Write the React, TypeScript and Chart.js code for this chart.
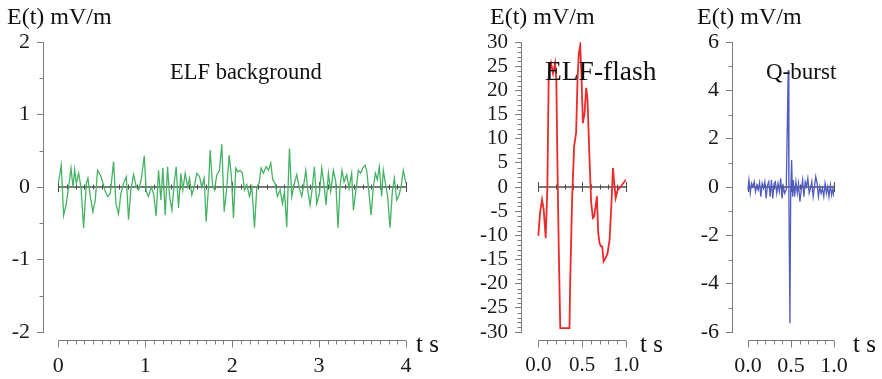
import React, { useEffect, useRef } from 'react';
import { Chart, registerables } from 'chart.js';

Chart.register(...registerables);

// ---------- DATA ----------
// ELF background (t in s, E in mV/m)
const bgTime = [
  0.0, 0.034, 0.061, 0.092, 0.119, 0.146, 0.169, 0.188, 0.207, 0.234, 0.261, 0.291, 0.322, 0.341, 0.368, 0.398,
  0.425, 0.452, 0.483, 0.51, 0.54, 0.567, 0.598, 0.636, 0.663, 0.693, 0.72, 0.751, 0.782, 0.808, 0.835, 0.866,
  0.897, 0.923, 0.954, 0.989, 1.011, 1.038, 1.069, 1.096, 1.126, 1.153, 1.18, 1.203, 1.23, 1.257, 1.28, 1.307,
  1.333, 1.356, 1.383, 1.41, 1.433, 1.46, 1.487, 1.51, 1.536, 1.563, 1.594, 1.625, 1.651, 1.678, 1.701, 1.728,
  1.747, 1.774, 1.797, 1.824, 1.854, 1.881, 1.908, 1.939, 1.966, 1.992, 2.015, 2.042, 2.065, 2.092, 2.119, 2.142,
  2.169, 2.199, 2.226, 2.257, 2.284, 2.31, 2.333, 2.36, 2.391, 2.418, 2.444, 2.467, 2.494, 2.521, 2.552, 2.579,
  2.602, 2.628, 2.659, 2.686, 2.716, 2.743, 2.774, 2.801, 2.82, 2.847, 2.87, 2.897, 2.923, 2.946, 2.973, 3.004,
  3.031, 3.057, 3.08, 3.107, 3.134, 3.165, 3.192, 3.218, 3.241, 3.264, 3.287, 3.318, 3.345, 3.375, 3.395, 3.425,
  3.452, 3.479, 3.502, 3.529, 3.548, 3.575, 3.598, 3.625, 3.648, 3.67, 3.693, 3.72, 3.739, 3.77, 3.789, 3.816,
  3.843, 3.866, 3.893, 3.92, 3.943, 3.969, 4.0,
];
const bgValue = [
  0.05, 0.3, -0.39, -0.23, 0.0, 0.26, 0.0, 0.24, 0.05, 0.19, 0.0, -0.57, 0.05, 0.12, -0.13, -0.34,
  -0.18, 0.23, 0.17, 0.07, -0.06, -0.13, -0.09, 0.35, -0.23, -0.37, -0.09, 0.05, 0.14, -0.45, -0.04, 0.17,
  0.0, -0.04, 0.1, 0.43, -0.06, -0.13, 0.0, -0.09, -0.4, 0.23, -0.18, 0.26, -0.39, 0.28, -0.13, -0.32,
  0.05, 0.28, -0.29, 0.19, -0.04, 0.19, 0.0, 0.12, -0.11, 0.0, 0.19, 0.14, 0.0, 0.12, -0.48, 0.0,
  0.51, 0.03, -0.04, 0.17, 0.23, 0.59, -0.34, 0.0, 0.44, 0.14, -0.43, 0.26, 0.21, 0.23, 0.19, -0.04,
  0.03, -0.13, 0.0, -0.56, 0.0, 0.05, 0.26, 0.19, 0.28, 0.23, 0.33, 0.1, 0.05, -0.13, -0.04, -0.23,
  -0.06, -0.55, 0.53, -0.13, 0.05, 0.17, -0.02, -0.13, 0.0, 0.23, -0.04, -0.25, 0.0, 0.28, -0.23, -0.09,
  0.26, 0.03, -0.25, 0.19, -0.06, 0.23, 0.07, -0.56, 0.0, 0.23, 0.07, 0.17, -0.02, 0.19, -0.32, -0.04,
  0.23, 0.19, 0.26, 0.3, 0.23, -0.09, -0.39, 0.0, 0.19, 0.1, 0.28, -0.13, 0.23, 0.0, -0.13, -0.56,
  -0.06, 0.12, -0.18, -0.11, 0.0, 0.23, 0.05,
];

// ELF-flash
const flashTime = [
  0.0, 0.019, 0.042, 0.061, 0.084, 0.103, 0.118, 0.145, 0.168, 0.191, 0.205, 0.218, 0.233, 0.25, 0.355, 0.363,
  0.385, 0.408, 0.431, 0.447, 0.462, 0.478, 0.492, 0.508, 0.527, 0.546, 0.561, 0.584, 0.603, 0.622, 0.637, 0.653,
  0.668, 0.683, 0.698, 0.714, 0.729, 0.744, 0.767, 0.79, 0.813, 0.836, 0.851, 0.866, 0.882, 0.905, 0.927, 0.958,
  0.985, 1.0,
];
const flashValue = [
  -10.1, -5.4, -2.6, -4.7, -10.6, 0.1, 22.9, 25.6, 23.5, 25.6, 22.2, 4.3, -13.0, -29.2, -29.2, -19.9,
  -2.6, 8.4, 11.2, 22.2, 27.7, 29.3, 22.9, 13.2, 15.3, 20.5, 18.1, 5.7, -3.3, -6.4, -6.1, -4.0,
  -1.9, -9.5, -11.6, -12.3, -12.3, -15.4, -14.7, -13.7, -10.9, -2.6, 3.9, 0.8, -2.3, -0.6, -0.2, 0.5,
  1.2, 1.5,
];

// Q-burst
const qTime = [
  0.0, 0.012, 0.027, 0.042, 0.058, 0.073, 0.088, 0.104, 0.119, 0.135, 0.15, 0.165, 0.181, 0.196, 0.212, 0.227,
  0.242, 0.258, 0.273, 0.288, 0.304, 0.319, 0.335, 0.35, 0.365, 0.381, 0.396, 0.412, 0.427, 0.445, 0.468, 0.476,
  0.488, 0.497, 0.508, 0.518, 0.527, 0.542, 0.558, 0.573, 0.588, 0.604, 0.619, 0.635, 0.65, 0.665, 0.681, 0.696,
  0.712, 0.727, 0.742, 0.758, 0.773, 0.788, 0.804, 0.819, 0.835, 0.85, 0.865, 0.881, 0.896, 0.912, 0.927, 0.942,
  0.958, 0.973, 0.988, 1.0,
];
const qValue = [
  -0.12, 0.29, -0.26, 0.15, 0.01, 0.22, -0.19, 0.08, -0.12, 0.18, -0.4, 0.15, -0.06, 0.22, -0.47, 0.08,
  0.22, -0.4, 0.29, -0.47, 0.15, 0.22, -0.26, 0.15, -0.19, 0.36, -0.47, 0.01, -0.26, -0.12, 4.84, -0.4,
  -5.64, -0.12, 1.12, -0.4, 0.29, -0.4, 0.22, -0.26, 0.15, -0.61, -0.12, 0.29, -0.4, 0.22, 0.01, 0.36,
  -0.26, -0.06, 0.22, -0.4, 0.01, 0.43, 0.15, -0.4, 0.01, -0.26, -0.06, -0.4, 0.15, -0.26, 0.01, -0.4,
  0.08, -0.33, -0.06, -0.4,
];

// Tick labels
const bgYTicks = [-2, -1, 0, 1, 2];
const bgXTicks = [0, 1, 2, 3, 4];
const flashYTicks = [-30, -25, -20, -15, -10, -5, 0, 5, 10, 15, 20, 25, 30];
const flashXTicks = [0, 0.5, 1];
const qYTicks = [-6, -4, -2, 0, 2, 4, 6];
const qXTicks = [0, 0.5, 1];

const yAxisTitle = 'E(t) mV/m';
const xAxisTitle = 't s';

// ---------- PANEL CONFIG ----------
type Panel = {
  left: number;
  width: number;
  time: number[];
  values: number[];
  color: string;
  lineWidth: number;
  yMin: number;
  yMax: number;
  yTicks: number[];
  yMinor: number;
  xMin: number;
  xMax: number;
  xTicks: number[];
  xMajor: number;
  xFmt: (v: number) => string;
  axisW: number;
  padRight: number;
  tickFont: number;
  label: string;
  labelX: number;
  labelY: number;
  labelFont: number;
  titleX: number;
  tsX: number;
};

const FONT = '"Liberation Serif", "Times New Roman", serif';

const panels: Panel[] = [
  {
    left: 0, width: 450, time: bgTime, values: bgValue, color: '#45b363', lineWidth: 1.3,
    yMin: -2, yMax: 2, yTicks: bgYTicks, yMinor: 0.5,
    xMin: -0.176, xMax: 4, xTicks: bgXTicks, xMajor: 1, xFmt: (v) => String(v),
    axisW: 43, padRight: 44, tickFont: 22,
    label: 'ELF background', labelX: 170, labelY: 79, labelFont: 22.5,
    titleX: 7, tsX: 416,
  },
  {
    left: 450, width: 230, time: flashTime, values: flashValue, color: '#ec2a2a', lineWidth: 1.8,
    yMin: -30, yMax: 30, yTicks: flashYTicks, yMinor: 1,
    xMin: -0.198, xMax: 1, xTicks: flashXTicks, xMajor: 0.5, xFmt: (v) => v.toFixed(1),
    axisW: 71, padRight: 54, tickFont: 21,
    label: 'ELF-flash', labelX: 95, labelY: 80, labelFont: 27.5,
    titleX: 40, tsX: 190,
  },
  {
    left: 680, width: 202, time: qTime, values: qValue, color: '#515cc0', lineWidth: 1.3,
    yMin: -6, yMax: 6, yTicks: qYTicks, yMinor: 1,
    xMin: -0.185, xMax: 1, xTicks: qXTicks, xMajor: 0.5, xFmt: (v) => v.toFixed(1),
    axisW: 52, padRight: 48, tickFont: 22,
    label: 'Q-burst', labelX: 86, labelY: 79, labelFont: 23,
    titleX: 17, tsX: 173,
  },
];

const HEIGHT = 379;
const AXIS_COLOR = '#7c7c7c';
const ZERO_COLOR = '#4c4c4c';

function isMultiple(v: number, step: number) {
  const r = v / step;
  return Math.abs(r - Math.round(r)) < 1e-6;
}

function PanelChart({ p }: { p: Panel }) {
  const ref = useRef<HTMLCanvasElement | null>(null);

  useEffect(() => {
    if (!ref.current) return;

    const decor = {
      id: 'decor',
      beforeDatasetsDraw(chart: any) {
        const ctx = chart.ctx;
        const xs = chart.scales.x;
        const ys = chart.scales.y;
        const y0 = ys.getPixelForValue(0);
        ctx.save();
        ctx.strokeStyle = ZERO_COLOR;
        ctx.lineWidth = 1.3;
        ctx.beginPath();
        ctx.moveTo(xs.getPixelForValue(0), y0);
        ctx.lineTo(xs.getPixelForValue(p.xMax), y0);
        ctx.stroke();
        const n = Math.round(p.xMax / 0.1);
        ctx.lineWidth = 1;
        ctx.beginPath();
        for (let i = 0; i <= n; i++) {
          const v = i * 0.1;
          const px = Math.round(xs.getPixelForValue(v)) + 0.5;
          const h = isMultiple(v, p.xMajor) ? 5 : 2.5;
          ctx.moveTo(px, y0 - h);
          ctx.lineTo(px, y0 + h);
        }
        ctx.stroke();
        ctx.restore();
      },
      afterDraw(chart: any) {
        const ctx = chart.ctx;
        const xs = chart.scales.x;
        const ys = chart.scales.y;
        const area = chart.chartArea;
        ctx.save();
        // minor y ticks
        ctx.strokeStyle = AXIS_COLOR;
        ctx.lineWidth = 1;
        ctx.beginPath();
        const ax = area.left;
        const nY = Math.round((p.yMax - p.yMin) / p.yMinor);
        for (let i = 0; i <= nY; i++) {
          const v = p.yMin + i * p.yMinor;
          if (p.yTicks.some((t) => Math.abs(t - v) < 1e-6)) continue;
          const py = Math.round(ys.getPixelForValue(v)) + 0.5;
          ctx.moveTo(ax - 3.5, py);
          ctx.lineTo(ax, py);
        }
        ctx.stroke();
        // detached x axis
        const yb = Math.round(area.bottom + 8) + 0.5;
        ctx.beginPath();
        ctx.moveTo(xs.getPixelForValue(0), yb);
        ctx.lineTo(xs.getPixelForValue(p.xMax), yb);
        const n = Math.round(p.xMax / 0.1);
        for (let i = 0; i <= n; i++) {
          const v = i * 0.1;
          const px = Math.round(xs.getPixelForValue(v)) + 0.5;
          const h = isMultiple(v, p.xMajor) ? 7 : 4;
          ctx.moveTo(px, yb);
          ctx.lineTo(px, yb + h);
        }
        ctx.stroke();
        // texts
        ctx.fillStyle = '#111';
        ctx.textBaseline = 'alphabetic';
        ctx.textAlign = 'left';
        ctx.font = `24px ${FONT}`;
        ctx.fillText(yAxisTitle, p.titleX, 24);
        ctx.font = `25px ${FONT}`;
        ctx.fillText(xAxisTitle, p.tsX, 352);
        ctx.font = `${p.labelFont}px ${FONT}`;
        ctx.fillText(p.label, p.labelX, p.labelY);
        ctx.restore();
      },
    };

    const chart = new Chart(ref.current, {
      type: 'line',
      data: {
        datasets: [
          {
            data: p.time.map((t, i) => ({ x: t, y: p.values[i] })),
            borderColor: p.color,
            borderWidth: p.lineWidth,
            pointRadius: 0,
            tension: 0,
            fill: false,
          },
        ],
      },
      options: {
        responsive: false,
        animation: false,
        events: [],
        layout: { padding: { top: 42, left: 0, right: p.padRight, bottom: 0 } },
        plugins: { legend: { display: false }, tooltip: { enabled: false } },
        scales: {
          x: {
            type: 'linear',
            position: 'bottom',
            min: p.xMin,
            max: p.xMax,
            grid: { display: false, drawTicks: false },
            border: { display: false },
            ticks: {
              autoSkip: false,
              maxRotation: 0,
              padding: 21,
              color: '#1a1a1a',
              font: { family: FONT, size: p.tickFont },
              callback: (v: any) => p.xFmt(Number(v)),
            },
            afterBuildTicks: (s: any) => {
              s.ticks = p.xTicks.map((v) => ({ value: v }));
            },
            afterFit: (s: any) => {
              s.height = HEIGHT - 332;
            },
          },
          y: {
            type: 'linear',
            position: 'left',
            min: p.yMin,
            max: p.yMax,
            grid: {
              drawOnChartArea: false,
              drawTicks: true,
              tickLength: 6,
              color: AXIS_COLOR,
            },
            border: { display: true, color: AXIS_COLOR, width: 1 },
            ticks: {
              autoSkip: false,
              padding: 7,
              color: '#1a1a1a',
              font: { family: FONT, size: p.tickFont },
              callback: (v: any) => String(v),
            },
            afterBuildTicks: (s: any) => {
              s.ticks = p.yTicks.map((v) => ({ value: v }));
            },
            afterFit: (s: any) => {
              s.width = p.axisW;
            },
          },
        },
      },
      plugins: [decor],
    } as any);

    return () => chart.destroy();
  }, [p]);

  return (
    <canvas
      ref={ref}
      width={p.width}
      height={HEIGHT}
      style={{ position: 'absolute', left: p.left, top: 0, width: p.width, height: HEIGHT }}
    />
  );
}

export default function App() {
  return (
    <div
      style={{
        position: 'absolute',
        left: 0,
        top: 0,
        width: 882,
        height: HEIGHT,
        background: '#fff',
        overflow: 'hidden',
      }}
    >
      {panels.map((p, i) => (
        <PanelChart key={i} p={p} />
      ))}
    </div>
  );
}
